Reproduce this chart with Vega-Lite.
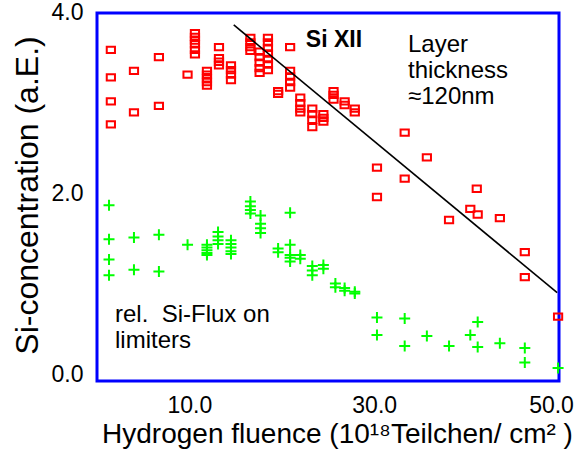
{
  "$schema": "https://vega.github.io/schema/vega-lite/v6.json",
  "width": 462,
  "height": 368,
  "autosize": {"type": "none"},
  "padding": {"left": 97, "top": 13, "right": 16, "bottom": 69},
  "background": "white",
  "config": {
    "view": {"stroke": "#0000ff", "strokeWidth": 3},
    "font": "Liberation Sans",
    "axis": {
      "grid": false,
      "labelFont": "Liberation Sans",
      "labelFontSize": 23,
      "labelColor": "black",
      "labelFlush": false,
      "labelOverlap": false,
      "titleFont": "Liberation Sans",
      "titleFontWeight": "normal",
      "titleColor": "black"
    }
  },
  "datasets": {
    "red": [
      {"fluence": 1.5, "conc": 3.60}, {"fluence": 1.5, "conc": 3.30}, {"fluence": 1.5, "conc": 3.04}, {"fluence": 1.5, "conc": 2.79},
      {"fluence": 4.0, "conc": 3.37}, {"fluence": 4.0, "conc": 2.92},
      {"fluence": 6.7, "conc": 3.52}, {"fluence": 6.7, "conc": 2.99},
      {"fluence": 9.8, "conc": 3.33},
      {"fluence": 10.6, "conc": 3.78}, {"fluence": 10.6, "conc": 3.74}, {"fluence": 10.6, "conc": 3.70}, {"fluence": 10.6, "conc": 3.66}, {"fluence": 10.6, "conc": 3.60}, {"fluence": 10.6, "conc": 3.55},
      {"fluence": 11.9, "conc": 3.37}, {"fluence": 11.9, "conc": 3.33}, {"fluence": 11.9, "conc": 3.29}, {"fluence": 11.9, "conc": 3.25}, {"fluence": 11.9, "conc": 3.21},
      {"fluence": 13.2, "conc": 3.63}, {"fluence": 13.2, "conc": 3.51}, {"fluence": 13.2, "conc": 3.47}, {"fluence": 13.2, "conc": 3.43},
      {"fluence": 14.5, "conc": 3.43}, {"fluence": 14.5, "conc": 3.38}, {"fluence": 14.5, "conc": 3.33}, {"fluence": 14.5, "conc": 3.27},
      {"fluence": 16.6, "conc": 3.73}, {"fluence": 16.6, "conc": 3.68}, {"fluence": 16.6, "conc": 3.63}, {"fluence": 16.6, "conc": 3.59},
      {"fluence": 17.6, "conc": 3.58}, {"fluence": 17.6, "conc": 3.52}, {"fluence": 17.6, "conc": 3.46}, {"fluence": 17.6, "conc": 3.40}, {"fluence": 17.6, "conc": 3.35},
      {"fluence": 18.5, "conc": 3.73}, {"fluence": 18.5, "conc": 3.68}, {"fluence": 18.5, "conc": 3.62}, {"fluence": 18.5, "conc": 3.56}, {"fluence": 18.5, "conc": 3.50}, {"fluence": 18.5, "conc": 3.44}, {"fluence": 18.5, "conc": 3.38},
      {"fluence": 19.6, "conc": 3.15}, {"fluence": 19.6, "conc": 3.12},
      {"fluence": 20.9, "conc": 3.63}, {"fluence": 20.9, "conc": 3.37}, {"fluence": 20.9, "conc": 3.31}, {"fluence": 20.9, "conc": 3.25}, {"fluence": 20.9, "conc": 3.19},
      {"fluence": 22.0, "conc": 3.08}, {"fluence": 22.0, "conc": 3.02}, {"fluence": 22.0, "conc": 2.96}, {"fluence": 22.0, "conc": 2.92},
      {"fluence": 23.3, "conc": 2.96}, {"fluence": 23.3, "conc": 2.90}, {"fluence": 23.3, "conc": 2.84}, {"fluence": 23.3, "conc": 2.76},
      {"fluence": 24.5, "conc": 2.90}, {"fluence": 24.5, "conc": 2.86}, {"fluence": 24.5, "conc": 2.82},
      {"fluence": 25.6, "conc": 3.15}, {"fluence": 25.6, "conc": 3.11}, {"fluence": 25.6, "conc": 3.06},
      {"fluence": 26.8, "conc": 3.04}, {"fluence": 26.8, "conc": 3.00},
      {"fluence": 27.9, "conc": 2.96}, {"fluence": 27.9, "conc": 2.92},
      {"fluence": 30.3, "conc": 2.32}, {"fluence": 30.3, "conc": 2.00},
      {"fluence": 33.3, "conc": 2.70}, {"fluence": 33.3, "conc": 2.20},
      {"fluence": 35.7, "conc": 2.43},
      {"fluence": 38.1, "conc": 1.75},
      {"fluence": 40.4, "conc": 1.87},
      {"fluence": 41.1, "conc": 2.09},
      {"fluence": 41.2, "conc": 1.81},
      {"fluence": 43.6, "conc": 1.77},
      {"fluence": 46.3, "conc": 1.40}, {"fluence": 46.3, "conc": 1.13},
      {"fluence": 49.9, "conc": 0.70}
    ],
    "green": [
      {"fluence": 1.3, "flux": 1.91}, {"fluence": 1.3, "flux": 1.54}, {"fluence": 1.3, "flux": 1.32}, {"fluence": 1.3, "flux": 1.15},
      {"fluence": 4.0, "flux": 1.56}, {"fluence": 4.0, "flux": 1.21},
      {"fluence": 6.7, "flux": 1.59}, {"fluence": 6.7, "flux": 1.19},
      {"fluence": 9.8, "flux": 1.48},
      {"fluence": 11.9, "flux": 1.48}, {"fluence": 11.9, "flux": 1.45}, {"fluence": 11.9, "flux": 1.42}, {"fluence": 11.9, "flux": 1.39}, {"fluence": 11.9, "flux": 1.37},
      {"fluence": 13.1, "flux": 1.62}, {"fluence": 13.1, "flux": 1.57}, {"fluence": 13.1, "flux": 1.53}, {"fluence": 13.1, "flux": 1.49},
      {"fluence": 14.5, "flux": 1.53}, {"fluence": 14.5, "flux": 1.49}, {"fluence": 14.5, "flux": 1.45}, {"fluence": 14.5, "flux": 1.41}, {"fluence": 14.5, "flux": 1.38},
      {"fluence": 16.6, "flux": 1.95}, {"fluence": 16.6, "flux": 1.90}, {"fluence": 16.6, "flux": 1.86}, {"fluence": 16.6, "flux": 1.82},
      {"fluence": 17.7, "flux": 1.80}, {"fluence": 17.7, "flux": 1.71}, {"fluence": 17.7, "flux": 1.66}, {"fluence": 17.7, "flux": 1.61},
      {"fluence": 19.6, "flux": 1.44}, {"fluence": 19.6, "flux": 1.40},
      {"fluence": 20.9, "flux": 1.83}, {"fluence": 20.9, "flux": 1.48}, {"fluence": 20.9, "flux": 1.37}, {"fluence": 20.9, "flux": 1.34}, {"fluence": 20.9, "flux": 1.30},
      {"fluence": 22.0, "flux": 1.37}, {"fluence": 22.0, "flux": 1.33},
      {"fluence": 23.3, "flux": 1.25}, {"fluence": 23.3, "flux": 1.20}, {"fluence": 23.3, "flux": 1.15},
      {"fluence": 24.5, "flux": 1.26}, {"fluence": 24.5, "flux": 1.22},
      {"fluence": 25.8, "flux": 1.06}, {"fluence": 25.8, "flux": 1.02},
      {"fluence": 26.8, "flux": 1.01}, {"fluence": 26.8, "flux": 0.98},
      {"fluence": 27.9, "flux": 0.97}, {"fluence": 27.9, "flux": 0.95},
      {"fluence": 30.3, "flux": 0.69}, {"fluence": 30.3, "flux": 0.50},
      {"fluence": 33.3, "flux": 0.68}, {"fluence": 33.3, "flux": 0.38},
      {"fluence": 35.7, "flux": 0.49},
      {"fluence": 38.1, "flux": 0.38},
      {"fluence": 40.4, "flux": 0.50},
      {"fluence": 41.2, "flux": 0.64}, {"fluence": 41.2, "flux": 0.37},
      {"fluence": 43.6, "flux": 0.41},
      {"fluence": 46.3, "flux": 0.36}, {"fluence": 46.3, "flux": 0.20},
      {"fluence": 49.9, "flux": 0.14}
    ],
    "fit": [
      {"fluence": 14.8, "conc": 3.87},
      {"fluence": 49.8, "conc": 0.96}
    ],
    "notes": [
      {"fluence": 33.66, "conc": 3.576, "text": "Layer\nthickness\n≈120nm"},
      {"fluence": 1.95, "conc": 0.641, "text": "rel.\u00a0 Si-Flux on\nlimiters"}
    ],
    "boldnotes": [
      {"fluence": 22.6, "conc": 3.63, "text": "Si XII"}
    ]
  },
  "resolve": {"axis": {"x": "independent", "y": "independent"}},
  "layer": [
    {
      "data": {"name": "red"},
      "mark": {"type": "point", "shape": "M-1.3,-1H1.3V1H-1.3Z", "filled": false, "stroke": "#ff0000", "strokeWidth": 2, "opacity": 1, "size": 40},
      "encoding": {
        "x": {
          "field": "fluence", "type": "quantitative",
          "scale": {"domain": [0, 50], "nice": false, "zero": false},
          "axis": {
            "orient": "bottom",
            "domain": false,
            "ticks": false,
            "values": [10, 30, 50],
            "format": ".1f",
            "labelBaseline": "alphabetic",
            "labelPadding": 31,
            "labelOffset": {"condition": {"test": "datum.value === 50", "value": -8}, "value": 0},
            "title": "Hydrogen fluence (10¹⁸Teilchen/ cm² )",
            "titleFontSize": 28,
            "titleX": 240,
            "titleY": 61,
            "titleAlign": "center",
            "titleBaseline": "alphabetic"
          }
        },
        "y": {
          "field": "conc", "type": "quantitative",
          "scale": {"domain": [0, 4], "nice": false, "zero": false},
          "axis": {
            "orient": "left",
            "domain": false,
            "ticks": false,
            "values": [0, 2, 4],
            "format": ".1f",
            "labelBaseline": "middle",
            "labelOffset": {"condition": [{"test": "datum.value === 0", "value": -7}, {"test": "datum.value === 4", "value": -1}], "value": -4},
            "labelPadding": 14,
            "title": "Si-concentration (a.E.)",
            "titleFontSize": 32,
            "titleAngle": -90,
            "titleX": -60,
            "titleY": 182,
            "titleAlign": "center",
            "titleBaseline": "alphabetic"
          }
        }
      }
    },
    {
      "data": {"name": "green"},
      "mark": {"type": "point", "shape": "M-1,0H1M0,-1V1", "filled": false, "stroke": "#00ff00", "strokeWidth": 2, "opacity": 1, "size": 121},
      "encoding": {
        "x": {"field": "fluence", "type": "quantitative", "scale": {"domain": [0, 50], "nice": false, "zero": false}, "axis": null},
        "y": {"field": "flux", "type": "quantitative", "scale": {"domain": [0, 4], "nice": false, "zero": false}, "axis": null}
      }
    },
    {
      "data": {"name": "fit"},
      "mark": {"type": "line", "color": "black", "strokeWidth": 1.6},
      "encoding": {
        "x": {"field": "fluence", "type": "quantitative", "scale": {"domain": [0, 50], "nice": false, "zero": false}, "axis": null},
        "y": {"field": "conc", "type": "quantitative", "scale": {"domain": [0, 4], "nice": false, "zero": false}, "axis": null}
      }
    },
    {
      "data": {"name": "notes"},
      "mark": {"type": "text", "align": "left", "baseline": "alphabetic", "fontSize": 24, "font": "Liberation Sans", "lineBreak": "\n", "lineHeight": 26, "color": "black"},
      "encoding": {
        "x": {"field": "fluence", "type": "quantitative", "scale": {"domain": [0, 50], "nice": false, "zero": false}, "axis": null},
        "y": {"field": "conc", "type": "quantitative", "scale": {"domain": [0, 4], "nice": false, "zero": false}, "axis": null},
        "text": {"field": "text", "type": "nominal"}
      }
    },
    {
      "data": {"name": "boldnotes"},
      "mark": {"type": "text", "align": "left", "baseline": "alphabetic", "fontSize": 23, "fontWeight": "bold", "font": "Liberation Sans", "color": "black"},
      "encoding": {
        "x": {"field": "fluence", "type": "quantitative", "scale": {"domain": [0, 50], "nice": false, "zero": false}, "axis": null},
        "y": {"field": "conc", "type": "quantitative", "scale": {"domain": [0, 4], "nice": false, "zero": false}, "axis": null},
        "text": {"field": "text", "type": "nominal"}
      }
    }
  ]
}
